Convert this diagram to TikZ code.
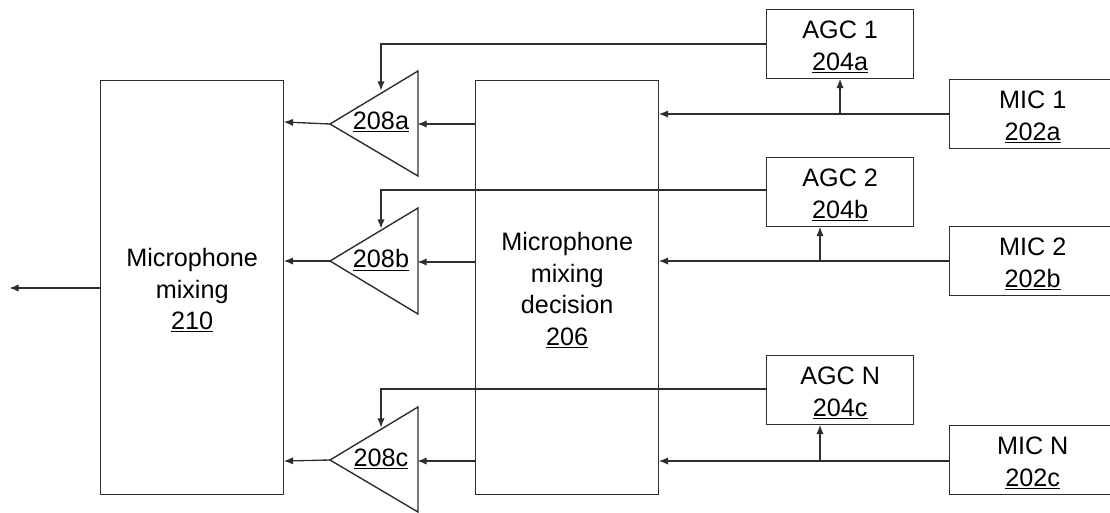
\documentclass[tikz,border=0pt]{standalone}
\usepackage{fontspec}
\setmainfont{Liberation Sans}
\usetikzlibrary{arrows.meta}
\definecolor{ink}{HTML}{2E2E2E}
\tikzset{
  blocklabel/.style={inner sep=0pt,align=center,text=black,yshift=-2.1pt,font=\fontsize{18.9pt}{23.6pt}\selectfont},
  blockbox/.style={draw=ink,line width=1.05pt,anchor=north west,inner sep=0pt,label={[blocklabel]center:{#1}}},
  wire/.style={draw=ink,line width=1pt},
  arrowwire/.style={wire,-{Latex[length=7pt,width=5.5pt]},shorten >=-0.5pt},
  amptri/.style={draw=ink,line width=1.05pt,line join=miter},
  amplabel/.style={inner sep=0pt,text=black,font=\fontsize{18.9pt}{23.6pt}\selectfont}
}
\begin{document}
\begin{tikzpicture}[x=0.75pt,y=-0.75pt]
\useasboundingbox (0,0) rectangle (1110,512);
% main blocks
\node[blockbox={Microphone\\mixing\\\underline{210}},minimum width=137.25pt,minimum height=310.5pt] (mix) at (100,80) {};
\node[blockbox={Microphone\\mixing\\decision\\\underline{206}},minimum width=137.25pt,minimum height=310.5pt] (dec) at (475,80) {};
% AGC
\node[blockbox={AGC 1\\\underline{204a}},minimum width=110.25pt,minimum height=51.75pt] (agc1) at (766,9) {};
\node[blockbox={AGC 2\\\underline{204b}},minimum width=110.25pt,minimum height=51.75pt] (agc2) at (766,157) {};
\node[blockbox={AGC N\\\underline{204c}},minimum width=110.25pt,minimum height=51.75pt] (agc3) at (766,355) {};
% MIC: boxes run past the right edge
\node[blockbox={MIC 1\\\underline{202a}},minimum width=124.5pt,minimum height=51.75pt] (mic1) at (949,79) {};
\node[blockbox={MIC 2\\\underline{202b}},minimum width=124.5pt,minimum height=51.75pt] (mic2) at (949,226) {};
\node[blockbox={MIC N\\\underline{202c}},minimum width=124.5pt,minimum height=51.75pt] (mic3) at (949,425) {};
% amplifiers
\coordinate (a1t) at (330,124); \coordinate (a1u) at (418,71);  \coordinate (a1d) at (418,176);
\coordinate (a2t) at (330,261); \coordinate (a2u) at (418,208); \coordinate (a2d) at (418,314);
\coordinate (a3t) at (330,460); \coordinate (a3u) at (418,407); \coordinate (a3d) at (418,512);
\draw[amptri] (a1t) -- (a1u) -- (a1d) -- cycle;
\draw[amptri] (a2t) -- (a2u) -- (a2d) -- cycle;
\draw[amptri] (a3t) -- (a3u) -- (a3d) -- cycle;
\node[amplabel] (amp1) at (381,122) {\underline{208a}};
\node[amplabel] (amp2) at (381,260) {\underline{208b}};
\node[amplabel] (amp3) at (381,459) {\underline{208c}};
% MIC to decision
\draw[arrowwire] (mic1.west |- 0,114) -- (dec.east |- 0,114);
\draw[arrowwire] (mic2.west |- 0,261) -- (dec.east |- 0,261);
\draw[arrowwire] (mic3.west |- 0,461) -- (dec.east |- 0,461);
% MIC to AGC
\coordinate (b1) at (840,114); \coordinate (b2) at (820,261); \coordinate (b3) at (820,461);
\draw[arrowwire] (b1) -- (b1 |- agc1.south);
\draw[arrowwire] (b2) -- (b2 |- agc2.south);
\draw[arrowwire] (b3) -- (b3 |- agc3.south);
% AGC to amplifier
\coordinate (g1) at (381,90); \coordinate (g2) at (381,228); \coordinate (g3) at (381,427);
\coordinate (w1) at (381,44); \coordinate (w2) at (381,190); \coordinate (w3) at (381,389);
\draw[arrowwire] (agc1.west |- w1) -- (w1) -- (g1);
\draw[arrowwire] (agc2.west |- w2) -- (w2) -- (g2);
\draw[arrowwire] (agc3.west |- w3) -- (w3) -- (g3);
% decision to amplifier
\coordinate (i1) at (418,124); \coordinate (i2) at (418,262); \coordinate (i3) at (418,461);
\draw[arrowwire] (dec.west |- i1) -- (i1);
\draw[arrowwire] (dec.west |- i2) -- (i2);
\draw[arrowwire] (dec.west |- i3) -- (i3);
% amplifier to mixing
\draw[arrowwire] (a1t) -- (mix.east |- 0,122);
\draw[arrowwire] (a2t) -- (mix.east |- 0,261);
\draw[arrowwire] (a3t) -- (mix.east |- 0,461);
% output
\coordinate (out) at (10,288);
\draw[arrowwire] (mix.west |- out) -- (out);
\end{tikzpicture}
\end{document}
